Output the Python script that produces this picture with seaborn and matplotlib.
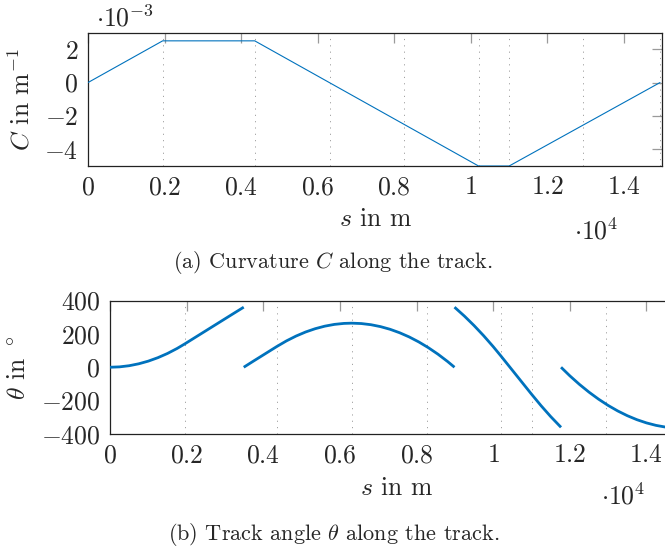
import numpy as np
import pandas as pd
import seaborn as sns
import matplotlib
matplotlib.use("Agg")
import matplotlib.pyplot as plt

# --- Datos ---
s_curv = [0, 1950, 4355, 10200, 11000, 14940]
curvature = [0, 2.5e-3, 2.5e-3, -5e-3, -5e-3, 0]

# limites de tramos (lineas punteadas)
section_s = [1950, 4355, 6310, 8260, 10200, 11000, 12940, 14940]

seg1_s = [0, 250, 500, 750, 1000, 1250, 1500, 1750, 1950, 2250, 2500, 2750, 3000, 3250, 3490]
seg1_theta = [0, 2.3, 9.2, 20.7, 36.7, 57.4, 82.6, 112.5, 139.7, 182.7, 218.5, 254.3, 290.1, 325.9, 360]
seg2_s = [3490, 3750, 4000, 4355, 4605, 4855, 5105, 5355, 5605, 5855, 6105, 6308,
          6558, 6808, 7058, 7308, 7558, 7808, 8058, 8308, 8558, 8808, 8990]
seg2_theta = [0, 37.8, 73.6, 124.5, 158.0, 186.9, 211.3, 231.0, 246.2, 256.8, 262.7, 264.2,
              261.9, 255.0, 243.5, 227.5, 206.8, 181.6, 151.7, 117.3, 78.3, 34.7, 0]
seg3_s = [8990, 9250, 9500, 9750, 10000, 10200, 10500, 10750, 11000, 11250, 11500, 11770]
seg3_theta = [360, 306.3, 250.0, 189.1, 123.6, 67.9, -18.0, -89.7, -161.3, -230.6, -295.5, -360]
seg4_s = [11770, 12000, 12250, 12500, 12750, 13000, 13250, 13500, 13750, 14000, 14250, 14500, 14750, 14940]
seg4_theta = [0, -51.4, -102.6, -149.2, -191.3, -228.9, -261.9, -290.3, -314.2, -333.5, -348.4, -358.7, -364, -366]

x_ticks = [0, 2000, 4000, 6000, 8000, 10000, 12000, 14000]
x_labels = ["0", "0.2", "0.4", "0.6", "0.8", "1", "1.2", "1.4"]
c_ticks = [-4e-3, -2e-3, 0, 2e-3]
c_labels = ["-4", "-2", "0", "2"]
th_ticks = [-400, -200, 0, 200, 400]
th_labels = ["-400", "-200", "0", "200", "400"]

BLUE = "#0072BD"
FS = 18.5

sns.set_style("white")
plt.rcParams["font.family"] = ["cmr10", "DejaVu Serif"]
plt.rcParams["mathtext.fontset"] = "cm"


def estilo(ax, xticks, yticks, ylabels):
    ax.set_xticks(xticks)
    ax.set_xticklabels(["$%s$" % t for t in x_labels])
    ax.set_yticks(yticks)
    ax.set_yticklabels(["$%s$" % t for t in ylabels])
    ax.tick_params(direction="in", length=7.5, width=0.9, color="#9a9a9a",
                   top=True, right=True, pad=7, labelsize=FS)
    for sp in ax.spines.values():
        sp.set_color("#222222")
        sp.set_linewidth(0.9)
    ax.set_xlabel("")
    ax.set_ylabel("")
    for xs in section_s:
        ax.axvline(xs, color="#a0a0a0", lw=0.7, ls=(0, (1.2, 5.3)), zorder=1)


fig = plt.figure(figsize=(6.65, 5.48), dpi=100)
W, H = 665.0, 548.0

# --- (a) curvatura ---
ax1 = fig.add_axes([88 / W, 1 - 166 / H, 574.3 / W, 133.5 / H])
df_c = pd.DataFrame({"s": s_curv, "C": curvature})
sns.lineplot(data=df_c, x="s", y="C", ax=ax1, color=BLUE, lw=0.8, estimator=None, sort=False, zorder=3)
ax1.set_xlim(0, 15000)
ax1.set_ylim(-5e-3, 3e-3)
estilo(ax1, x_ticks, c_ticks, c_labels)

fig.text(21 / W, 1 - 100 / H, r"$C$ in m$^{-1}$", rotation=90, ha="center", va="center", fontsize=FS)
fig.text(96 / W, 1 - 18 / H, r"$\cdot 10^{-3}$", ha="left", va="center", fontsize=FS)
fig.text(376 / W, 1 - 219 / H, r"$s$ in m", ha="center", va="center", fontsize=FS)
fig.text(618 / W, 1 - 231 / H, r"$\cdot 10^{4}$", ha="right", va="center", fontsize=FS)
fig.text(333 / W, 1 - 263 / H, r"(a) Curvature $C$ along the track.", ha="center", va="center", fontsize=16)

# --- (b) angulo ---
ax2 = fig.add_axes([110 / W, 1 - 434 / H, 574.8 / W, 133.5 / H])
df_t = pd.concat([
    pd.DataFrame({"s": ss, "theta": tt, "tramo": k})
    for k, (ss, tt) in enumerate([(seg1_s, seg1_theta), (seg2_s, seg2_theta),
                                  (seg3_s, seg3_theta), (seg4_s, seg4_theta)])
])
sns.lineplot(data=df_t, x="s", y="theta", units="tramo", estimator=None, sort=False,
             ax=ax2, color=BLUE, lw=2.0, solid_capstyle="butt", zorder=3)
ax2.set_xlim(0, 15000)
ax2.set_ylim(-400, 400)
estilo(ax2, x_ticks, th_ticks, th_labels)

fig.text(18 / W, 1 - 368 / H, r"$\theta$ in $^\circ$", rotation=90, ha="center", va="center", fontsize=FS)
fig.text(397 / W, 1 - 488 / H, r"$s$ in m", ha="center", va="center", fontsize=FS)
fig.text(645 / W, 1 - 496 / H, r"$\cdot 10^{4}$", ha="right", va="center", fontsize=FS)
fig.text(334 / W, 1 - 534 / H, r"(b) Track angle $\theta$ along the track.", ha="center", va="center", fontsize=16)

fig.savefig("out.png", dpi=100)
